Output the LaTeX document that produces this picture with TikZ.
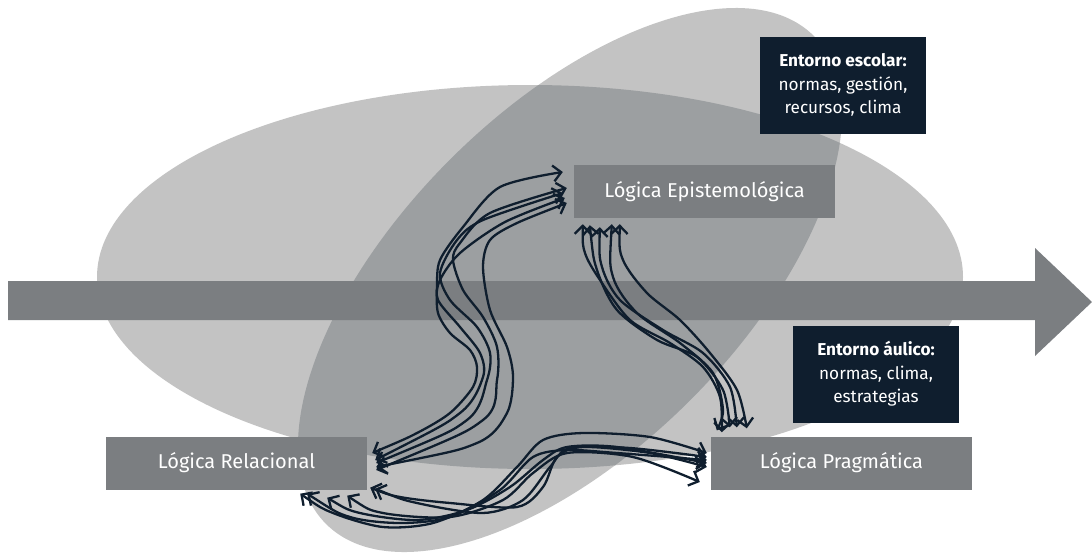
\documentclass[tikz,border=0pt]{standalone}
\usepackage{fontspec}
\setmainfont{Fira Sans}
\usetikzlibrary{arrows.meta,calc}
\definecolor{lightg}{HTML}{C3C3C3}
\definecolor{overg}{HTML}{9C9FA1}
\definecolor{bandg}{HTML}{7B7E81}
\definecolor{navy}{HTML}{0F1E2E}
\begin{document}
\begin{tikzpicture}[x=1pt,y=-1pt,
  lbox/.style={fill=bandg, text=white, minimum width=261pt, minimum height=53pt, inner sep=0pt, font=\fontsize{20}{23}\selectfont},
  dbox/.style={fill=navy, text=white, minimum width=166pt, minimum height=97pt, inner sep=0pt, align=center, font=\fontsize{17.2}{23.5}\selectfont},
  link/.style={draw=navy, line width=2.3pt, line cap=round, {Straight Barb[length=8pt,width=16pt]}-{Straight Barb[length=8pt,width=16pt]}}]
\useasboundingbox (0,0) rectangle (1092,552);
% ellipses
\fill[lightg] (530,277) ellipse [x radius=433, y radius=192];
\begin{scope}[shift={(570,280)}, rotate=45]
  \fill[lightg] (0,0) ellipse [x radius=345, y radius=170];
\end{scope}
\begin{scope}
  \clip (530,277) ellipse [x radius=433, y radius=192];
  \begin{scope}[shift={(570,280)}, rotate=45]
    \fill[overg] (0,0) ellipse [x radius=345, y radius=170];
  \end{scope}
\end{scope}
% big arrow band
\fill[bandg] (8,281) -- (1035,281) -- (1035,248) -- (1092,302) -- (1035,356) -- (1035,320) -- (8,320) -- cycle;
% boxes
\node[lbox] (epi) at (704.5,191.5) {Lógica Epistemológica};
\node[lbox] (rel) at (236.5,463) {Lógica Relacional};
\node[lbox] (prag) at (841.5,463) {Lógica Pragmática};
\node[dbox] (esc) at (843,85) {\textbf{Entorno escolar:}\\normas, gestión,\\recursos, clima};
\node[dbox] (aul) at (876,374) {\textbf{Entorno áulico:}\\normas, clima,\\estrategias};
% endpoints group 1
\coordinate (r1a) at ($(rel.east)+(5,-10)$);  \coordinate (e1a) at ($(epi.west)+(-11,-19.5)$);
\coordinate (r1b) at ($(rel.east)+(9,4)$);    \coordinate (e1b) at ($(epi.west)+(-7,11.5)$);
\coordinate (r1c) at ($(rel.east)+(9,0)$);    \coordinate (e1c) at ($(epi.west)+(-11,1.5)$);
\coordinate (r1d) at ($(rel.east)+(9,7)$);    \coordinate (e1d) at ($(epi.west)+(-7,-3.5)$);
\coordinate (r1e) at ($(rel.east)+(8,-3)$);   \coordinate (e1e) at ($(epi.west)+(-9,6.5)$);
% endpoints group 2
\coordinate (e2a) at ($(epi.south west)+(9,6)$);  \coordinate (p2a) at ($(prag.north west)+(11,-4)$);
\coordinate (e2b) at ($(epi.south west)+(46,6)$); \coordinate (p2b) at ($(prag.north west)+(36,-8)$);
\coordinate (e2c) at ($(epi.south west)+(16,7)$); \coordinate (p2c) at ($(prag.north west)+(19,-9)$);
\coordinate (e2d) at ($(epi.south west)+(26,9)$); \coordinate (p2d) at ($(prag.north west)+(26,-9)$);
\coordinate (e2e) at ($(epi.south west)+(38,6)$); \coordinate (p2e) at ($(prag.north west)+(6,-6)$);
% endpoints group 3
\coordinate (r3a) at ($(rel.south east)+(-67,4)$); \coordinate (p3a) at ($(prag.west)+(-4,-10)$);
\coordinate (r3b) at ($(rel.south east)+(-40,8)$); \coordinate (p3b) at ($(prag.west)+(-4,0)$);
\coordinate (r3c) at ($(rel.south east)+(3,-2)$);  \coordinate (p3c) at ($(prag.west)+(-4,4)$);
\coordinate (r3d) at ($(rel.south east)+(-20,6)$); \coordinate (p3d) at ($(prag.west)+(-11,19)$);
\coordinate (r3e) at ($(rel.south east)+(-60,4)$); \coordinate (p3e) at ($(prag.west)+(-4,-3)$);
\coordinate (r3f) at ($(rel.south east)+(8,-1)$);  \coordinate (p3f) at ($(prag.west)+(-4,-6)$);
% group 1: Relacional <-> Epistemologica
\draw[link] plot[smooth] coordinates {(r1a) (417,433) (450,413) (473,387) (477,367) (470,350) (450,333) (438,313) (437,287) (440,260) (463,227) (500,187) (e1a)};
\draw[link] plot[smooth] coordinates {(r1b) (477,443) (507,413) (513,377) (507,347) (490,310) (483,267) (490,240) (517,223) (e1b)};
\draw[link] plot[smooth] coordinates {(r1c) (467,420) (487,380) (490,353) (477,327) (450,300) (440,273) (457,240) (483,220) (e1c)};
\draw[link] plot[smooth] coordinates {(r1d) (483,420) (497,380) (497,347) (483,317) (463,290) (453,260) (460,243) (490,213) (e1d)};
\draw[link] plot[smooth] coordinates {(r1e) (460,413) (483,377) (480,353) (460,327) (438,300) (440,280) (460,253) (505,222) (e1e)};
% group 2: Epistemologica <-> Pragmatica
\draw[link] plot[smooth] coordinates {(e2a) (585,253) (600,280) (630,320) (670,343) (703,367) (720,397) (p2a)};
\draw[link] plot[smooth] coordinates {(e2b) (623,260) (647,293) (680,320) (710,353) (737,390) (p2b)};
\draw[link] plot[smooth] coordinates {(e2c) (597,270) (617,310) (657,340) (697,357) (723,390) (p2c)};
\draw[link] plot[smooth] coordinates {(e2d) (602,267) (620,300) (663,330) (703,353) (730,387) (p2d)};
\draw[link] plot[smooth] coordinates {(e2e) (613,277) (637,313) (680,343) (713,373) (723,410) (p2e)};
% group 3: Relacional <-> Pragmatica
\draw[link] plot[smooth] coordinates {(r3a) (333,513) (383,527) (433,523) (483,500) (517,467) (543,440) (583,433) (650,437) (p3a)};
\draw[link] plot[smooth] coordinates {(r3b) (360,513) (417,520) (467,510) (510,487) (543,460) (567,447) (617,447) (p3b)};
\draw[link] plot[smooth] coordinates {(r3c) (400,497) (450,503) (517,507) (543,487) (557,457) (583,447) (650,453) (p3c)};
\draw[link] plot[smooth] coordinates {(r3d) (383,513) (450,517) (503,500) (533,473) (567,453) (633,457) (p3d)};
\draw[link] plot[smooth] coordinates {(r3e) (350,517) (400,523) (450,517) (500,490) (533,457) (567,450) (617,453) (p3e)};
\draw[link] plot[smooth] coordinates {(r3f) (417,503) (483,513) (523,500) (550,467) (570,448) (630,448) (p3f)};
\end{tikzpicture}
\end{document}
